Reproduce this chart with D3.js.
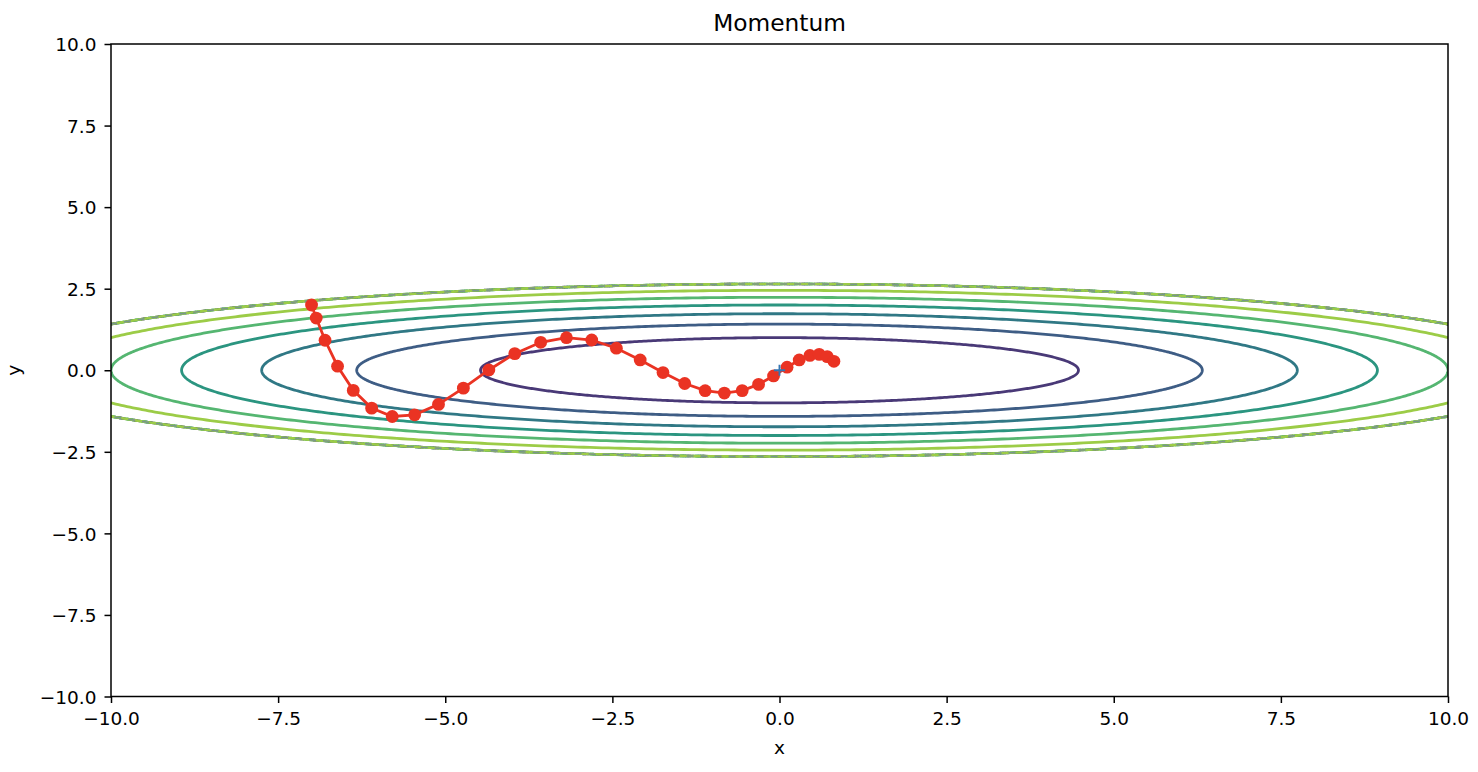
<!DOCTYPE html>
<html>
<head>
<meta charset="utf-8">
<script src="https://cdn.jsdelivr.net/npm/d3@7"></script>
<style>
  html, body { margin: 0; padding: 0; background: #fff; }
  svg { display: block; }
  text { font-family: "DejaVu Sans", sans-serif; fill: #000; }
</style>
</head>
<body>
<svg id="chart" width="1478" height="772"></svg>
<script>
// ---- data ----
const title = "Momentum";
const xLabel = "x";
const yLabel = "y";
const xTicks = [-10, -7.5, -5, -2.5, 0, 2.5, 5, 7.5, 10];
const yTicks = [-10, -7.5, -5, -2.5, 0, 2.5, 5, 7.5, 10];
// optimisation path (red)
const pathX = [-7.000, -6.930, -6.798, -6.611, -6.376, -6.101, -5.793, -5.458, -5.101, -4.729,
               -4.348, -3.960, -3.572, -3.187, -2.809, -2.440, -2.084, -1.743, -1.418, -1.112,
               -0.825, -0.558, -0.313, -0.089, 0.113, 0.295, 0.455, 0.594, 0.714, 0.814];
const pathY = [2.000, 1.600, 0.920, 0.124, -0.617, -1.161, -1.418, -1.366, -1.046, -0.548,
               0.009, 0.509, 0.857, 0.998, 0.927, 0.676, 0.316, -0.071, -0.406, -0.626,
               -0.699, -0.624, -0.433, -0.174, 0.094, 0.316, 0.453, 0.486, 0.418, 0.273];
// contour levels of f(x,y) = x^2/20 + y^2 (masked above 7)
const contourLevels = [1, 2, 3, 4, 5, 6];
const levelDomain = [0, 7];
const maskLevel = 7;
const origin = [0, 0];

// ---- layout ----
const L = 111, R = 1448, T = 44, B = 696.5;
const svg = d3.select("#chart");
const x = d3.scaleLinear().domain([-10, 10]).range([L, R]);
const y = d3.scaleLinear().domain([-10, 10]).range([B, T]);
const viridis = d3.scaleSequential(d3.interpolateViridis).domain(levelDomain);
const color = v => { const c = d3.hsl(viridis(v)); c.s *= 0.82; return c.formatHex(); };

svg.append("defs").append("clipPath").attr("id", "clip")
  .append("rect").attr("x", L).attr("y", T).attr("width", R - L).attr("height", B - T);

const plot = svg.append("g").attr("clip-path", "url(#clip)");

function ellipsePts(level) {
  const a = Math.sqrt(20 * level), b = Math.sqrt(level);
  return d3.range(0, 721).map(i => {
    const t = i / 720 * 2 * Math.PI;
    return [a * Math.cos(t), b * Math.sin(t)];
  });
}
const line = d3.line().x(d => x(d[0])).y(d => y(d[1]));

// contours
contourLevels.forEach(lv => {
  plot.append("path").attr("d", line(ellipsePts(lv)))
    .attr("fill", "none").attr("stroke", color(lv)).attr("stroke-width", 2.8);
});
// mask boundary bundle (all levels collapse onto it)
const bundle = ellipsePts(maskLevel);
contourLevels.forEach((lv, i) => {
  plot.append("path").attr("d", line(bundle))
    .attr("fill", "none").attr("stroke", color(lv)).attr("stroke-width", 2.6)
    .attr("stroke-dasharray", i === contourLevels.length - 1 ? null : "6 9")
    .attr("stroke-dashoffset", i * 2.5);
});
plot.append("path").attr("d", line(bundle))
  .attr("fill", "none").attr("stroke", "#6f8a9c").attr("stroke-width", 1.6)
  .attr("stroke-dasharray", "7 7").attr("opacity", 0.8);

// optimisation path
const pts = pathX.map((v, i) => [v, pathY[i]]);
plot.append("path").attr("d", line(pts))
  .attr("fill", "none").attr("stroke", "#ea3323").attr("stroke-width", 2.8);
plot.selectAll("circle.pt").data(pts).join("circle").attr("class", "pt")
  .attr("cx", d => x(d[0])).attr("cy", d => y(d[1])).attr("r", 6.4)
  .attr("fill", "#ea3323");

// '+' at origin
const ox = x(origin[0]), oy = y(origin[1]);
plot.append("path").attr("d", `M${ox - 5.6},${oy}H${ox + 5.6}M${ox},${oy - 5.6}V${oy + 5.6}`)
  .attr("stroke", "#3476b3").attr("stroke-width", 1.9).attr("fill", "none");

// ---- axes ----
const fmt = d3.format(".1f");
const xAxis = svg.append("g").attr("transform", `translate(0,${B})`)
  .call(d3.axisBottom(x).tickValues(xTicks).tickFormat(fmt).tickSizeInner(6.5).tickSizeOuter(0).tickPadding(6));
const yAxis = svg.append("g").attr("transform", `translate(${L},0)`)
  .call(d3.axisLeft(y).tickValues(yTicks).tickFormat(fmt).tickSizeInner(6.5).tickSizeOuter(0).tickPadding(8));
[xAxis, yAxis].forEach(g => {
  g.select(".domain").remove();
  g.selectAll(".tick line").attr("stroke", "#000").attr("stroke-width", 1.5);
  g.selectAll(".tick text").attr("font-size", 18.5).attr("font-family", "DejaVu Sans").attr("fill", "#000");
});
xAxis.selectAll(".tick text").attr("dy", null).attr("y", 28.5);
yAxis.selectAll(".tick text").attr("dy", "0.36em");

svg.append("rect").attr("x", L).attr("y", T).attr("width", R - L).attr("height", B - T)
  .attr("fill", "none").attr("stroke", "#000").attr("stroke-width", 1.5);

// ---- labels ----
svg.append("text").attr("x", (L + R) / 2).attr("y", 31).attr("text-anchor", "middle")
  .attr("font-size", 23.3).text(title);
svg.append("text").attr("x", (L + R) / 2).attr("y", 754).attr("text-anchor", "middle")
  .attr("font-size", 18.5).text(xLabel);
svg.append("text").attr("transform", `translate(20,${(T + B) / 2}) rotate(-90)`)
  .attr("text-anchor", "middle").attr("font-size", 18.5).text(yLabel);
</script>
</body>
</html>
